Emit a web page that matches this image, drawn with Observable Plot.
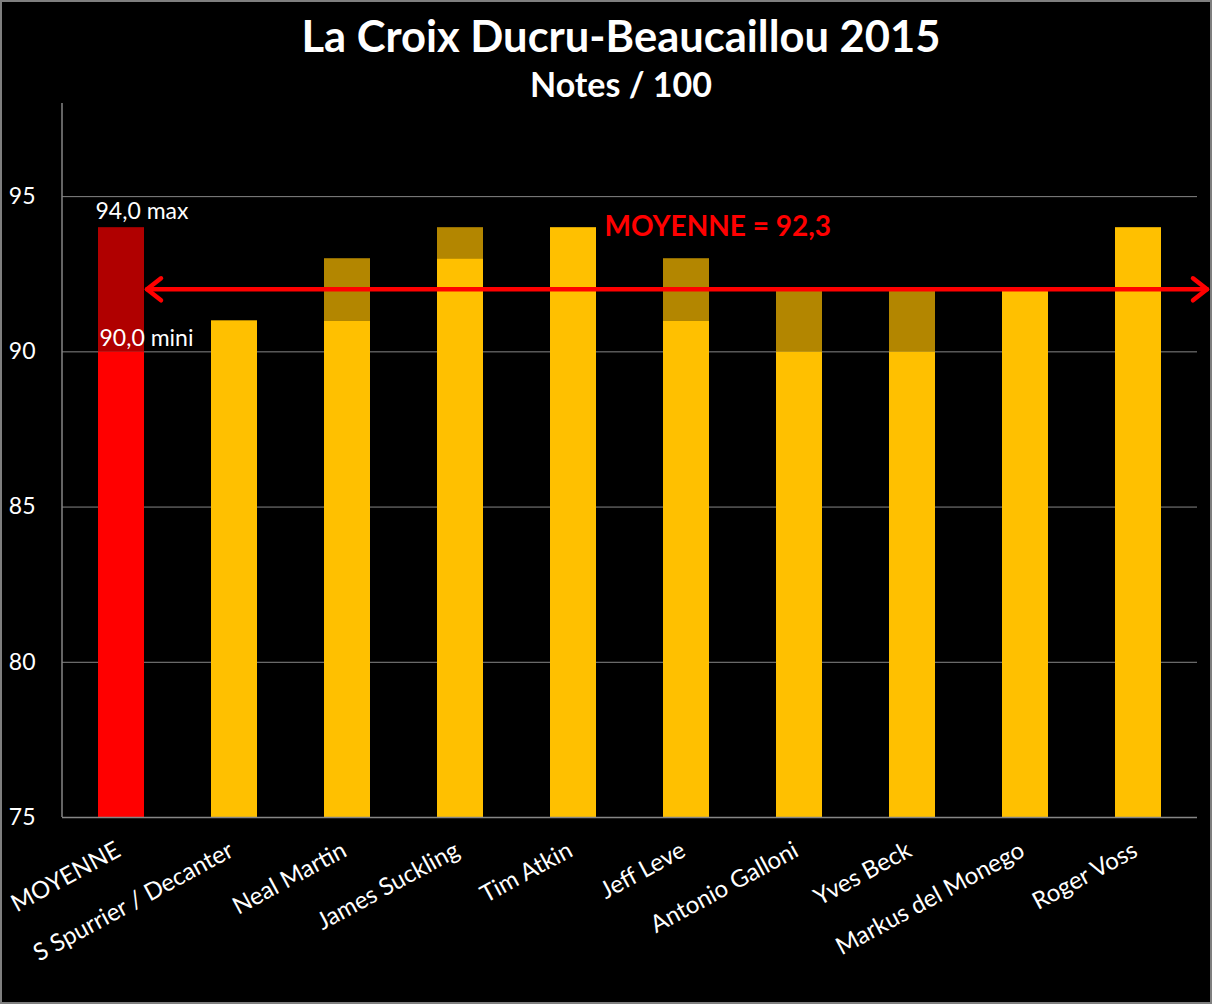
<!DOCTYPE html>
<html>
<head>
<meta charset="utf-8">
<script src="https://cdn.jsdelivr.net/npm/d3@7"></script>
<script src="https://cdn.jsdelivr.net/npm/@observablehq/plot@0.6"></script>
<style>
  html, body { margin: 0; padding: 0; background: #000; }
  #wrap { position: relative; width: 1212px; height: 1004px; background: #000; overflow: hidden;
          outline: 2px solid #7f7f7f; outline-offset: -2px; font-family: Lato, "Open Sans", sans-serif; }
  #title { position: absolute; left: 30px; right: 0; top: 10px; text-align: center; color: #fff;
           font-weight: bold; font-size: 43.5px; line-height: 50px; }
  #subtitle { position: absolute; left: 30px; right: 0; top: 64px; text-align: center; color: #fff;
              font-weight: bold; font-size: 34px; line-height: 40px; }
  #chart { position: absolute; left: 0; top: 100px; }
</style>
</head>
<body>
<div id="wrap">
  <div id="title">La Croix Ducru-Beaucaillou 2015</div>
  <div id="subtitle">Notes / 100</div>
  <div id="chart"></div>
</div>
<script>
const critics = ["MOYENNE", "S Spurrier / Decanter", "Neal Martin", "James Suckling", "Tim Atkin",
                 "Jeff Leve", "Antonio Galloni", "Yves Beck", "Markus del Monego", "Roger Voss"];
const minScores = [90, 91, 91, 93, 94, 91, 90, 90, 92, 94];
const maxScores = [94, 91, 93, 94, 94, 93, 92, 92, 92, 94];
const yTicks = [75, 80, 85, 90, 95];
const averageLabel = "MOYENNE = 92,3";
const averageLine = 92;
const yBase = 75;

const data = critics.map((c, i) => ({critic: c, min: minScores[i], max: maxScores[i]}));
const fmt = v => v.toFixed(1).replace(".", ",");
const avgRow = data.filter(d => d.critic === "MOYENNE");

const chart = Plot.plot({
  width: 1212,
  height: 904,
  marginTop: 3,
  marginBottom: 187,
  marginLeft: 62,
  marginRight: 15,
  style: {background: "transparent", color: "#fff", fontFamily: "Lato, 'Open Sans', sans-serif"},
  x: {domain: critics, paddingInner: 0.595, paddingOuter: 0.29, label: null},
  y: {domain: [75, 98], label: null},
  marks: [
    Plot.ruleY(yTicks.filter(t => t > yBase), {stroke: "#868686", strokeWidth: 1}),
    Plot.barY(data, {x: "critic", y1: yBase, y2: "min",
      fill: d => d.critic === "MOYENNE" ? "#FF0000" : "#FFC000"}),
    Plot.barY(data.filter(d => d.max > d.min), {x: "critic", y1: "min", y2: "max",
      fill: d => d.critic === "MOYENNE" ? "#B00000" : "#B38600"}),
    Plot.ruleY([yBase], {stroke: "#868686", strokeWidth: 1.5}),
    Plot.axisY({ticks: yTicks, tickSize: 0, tickPadding: 27, fontSize: 23, fill: "#fff", label: null}),
    Plot.axisX({tickSize: 0, tickPadding: 31, tickRotate: -28.5, fontSize: 24, fill: "#fff", label: null, dx: -3}),
    Plot.text(avgRow, {x: "critic", y: "max", text: d => `${fmt(d.max)} max`, textAnchor: "start",
      dx: -26, dy: -16, fill: "#fff", fontSize: 23}),
    Plot.text(avgRow, {x: "critic", y: "min", text: d => `${fmt(d.min)} mini`, textAnchor: "start",
      dx: -22, dy: -13, fill: "#fff", fontSize: 23}),
    Plot.text([averageLabel], {x: () => "Tim Atkin", y: () => 94, text: d => d, textAnchor: "start",
      dx: 31, dy: -1, fill: "#FF0000", fontSize: 28, fontWeight: "bold"})
  ]
});

document.getElementById("chart").appendChild(chart);

// y-axis line and double-headed average arrow, positioned via Plot's scales
const xs = chart.scale("x");
const ys = chart.scale("y");
const svg = d3.select(chart);
const yTop = ys.apply(98), yBot = ys.apply(yBase);
const axisX0 = 62;
svg.append("line").attr("x1", axisX0).attr("x2", axisX0).attr("y1", yTop).attr("y2", yBot)
  .attr("stroke", "#868686").attr("stroke-width", 1.5);

const ax1 = xs.apply("MOYENNE") + xs.bandwidth + 1;
const ax2 = 1209;
const ay = ys.apply(averageLine);
const g = svg.append("g").attr("stroke", "#FF0000").attr("stroke-width", 4.5)
  .attr("fill", "none").attr("stroke-linecap", "round").attr("stroke-linejoin", "round");
g.append("line").attr("x1", ax1 + 2).attr("x2", ax2 - 2).attr("y1", ay).attr("y2", ay);
g.append("path").attr("d", `M${ax1 + 16},${ay - 11}L${ax1 + 2},${ay}L${ax1 + 16},${ay + 11}`);
g.append("path").attr("d", `M${ax2 - 16},${ay - 11}L${ax2 - 2},${ay}L${ax2 - 16},${ay + 11}`);
</script>
</body>
</html>
